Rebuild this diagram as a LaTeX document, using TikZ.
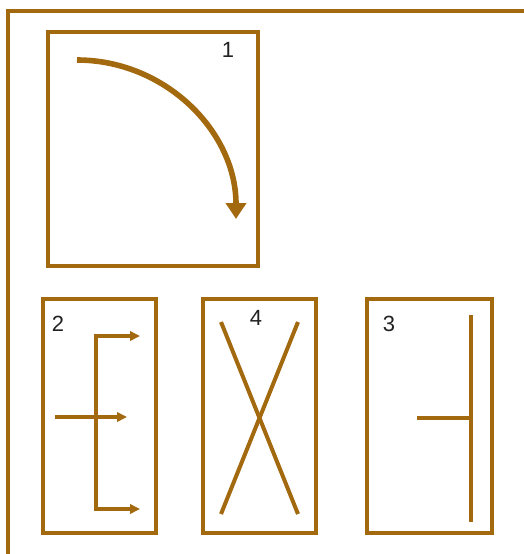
\documentclass[tikz,border=0pt]{standalone}
\usepackage{fontspec}
\setmainfont{Liberation Sans}
\usepackage{tikz}
\usetikzlibrary{arrows.meta}
\definecolor{framebrown}{HTML}{A3690F}
\definecolor{labelgray}{HTML}{222222}
\tikzset{
  panel/.style={draw=framebrown, line width=3pt, inner sep=0pt},
  stroke/.style={draw=framebrown, line width=2.5pt},
  numlabel/.style={text=labelgray, font=\fontsize{16.5}{17}\selectfont},
}

\begin{document}
\begin{tikzpicture}[x=0.75pt,y=-0.75pt]
\useasboundingbox (0,0) rectangle (524,554);

% outer frame
\draw[draw=framebrown, line width=2.6pt] (8,556) -- (8,11) -- (526,11);

% panels
\node[panel, minimum width=157.5pt, minimum height=175.5pt] (p1) at (153,149) {};
\node[panel, minimum width=84.75pt, minimum height=175.5pt] (p2) at (99.5,416) {};
\node[panel, minimum width=84.75pt, minimum height=175.5pt] (p4) at (259.5,416) {};
\node[panel, minimum width=93.75pt, minimum height=175.5pt] (p3) at (429.5,416) {};

\node[numlabel] (l1) at (228,50) {1};
\node[numlabel] (l2) at (58,324) {2};
\node[numlabel] (l4) at (256,318) {4};
\node[numlabel] (l3) at (389,324) {3};

% panel 1: turning arrow
\coordinate (a1) at (77,60);
\draw[draw=framebrown, line width=4.2pt, -{Triangle[length=12pt,width=15pt]}]
  (a1) arc[start angle=90, end angle=0, radius=119.25pt];

% panel 2: split arrows
\coordinate (s0) at (55,417);
\coordinate (s1) at (127,417);
\coordinate (t0) at (96,336);
\coordinate (t1) at (140,336);
\coordinate (b0) at (96,509);
\coordinate (b1) at (140,509);
\draw[stroke, -{Triangle[length=7.5pt,width=7pt]}] (s0) -- (s1);
\draw[stroke, -{Triangle[length=7.5pt,width=7pt]}] (b0) -- (t0) -- (t1);
\draw[stroke, -{Triangle[length=7.5pt,width=7pt]}] (t0) -- (b0) -- (b1);

% panel 4: cross
\coordinate (x1) at (221,322);
\coordinate (x2) at (298,514);
\coordinate (x3) at (298,322);
\coordinate (x4) at (221,514);
\draw[stroke, line width=3pt] (x1) -- (x2);
\draw[stroke, line width=3pt] (x3) -- (x4);

% panel 3: stop bar
\coordinate (v0) at (471,315);
\coordinate (v1) at (471,522);
\coordinate (h0) at (417,418);
\coordinate (h1) at (471,418);
\draw[stroke, line width=3pt] (v0) -- (v1);
\draw[stroke, line width=3pt] (h0) -- (h1);
\end{tikzpicture}
\end{document}
